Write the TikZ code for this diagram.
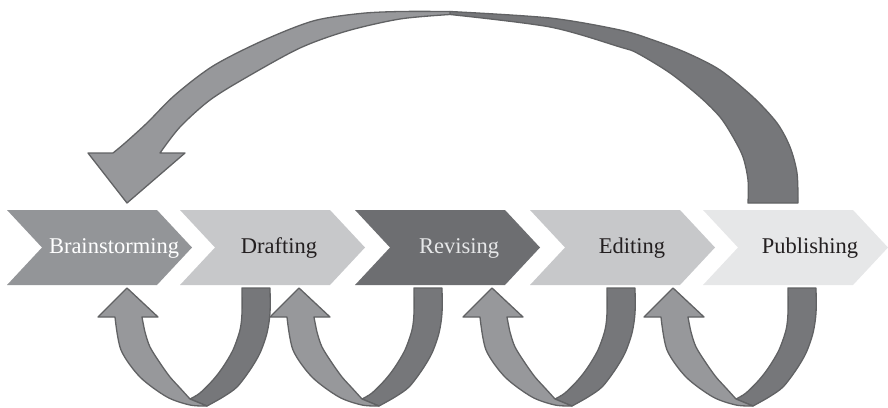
\documentclass[tikz,border=0pt]{standalone}
\usepackage{fontspec}
\setmainfont{Liberation Serif}
\definecolor{chevA}{HTML}{939598}
\definecolor{chevB}{HTML}{C7C8CA}
\definecolor{chevC}{HTML}{6D6E71}
\definecolor{chevD}{HTML}{C7C8CA}
\definecolor{chevE}{HTML}{E6E7E8}
\definecolor{arrowlight}{HTML}{97989B}
\definecolor{arrowdark}{HTML}{76777A}
\definecolor{arrowedge}{HTML}{616264}
\definecolor{darktext}{HTML}{231F20}
\begin{document}
\begin{tikzpicture}[x=1pt,y=-1pt,
  ribbonlight/.style={fill=arrowlight, draw=arrowedge, line width=1.3pt, line join=round},
  ribbondark/.style={fill=arrowdark, draw=arrowedge, line width=1.3pt, line join=round},
  stagelabel/.style={font=\fontsize{22.5}{27}\selectfont, anchor=base, inner sep=0pt},
]
\useasboundingbox (0,0) rectangle (888,407);

% process chevrons
\foreach \l/\c in {7/chevA,180/chevB,355/chevC,530/chevD,703/chevE}{
  \fill[\c] (\l,210) -- ++(150,0) -- ++(35,37.5) -- ++(-35,37.5) -- ++(-150,0) -- ++(35,-37.5) -- cycle;
}

% stage labels
\node[stagelabel, text=white]    (bs) at (114,253) {Brainstorming};
\node[stagelabel, text=darktext] (dr) at (279,253) {Drafting};
\node[stagelabel, text=chevE]    (rv) at (459,253) {Revising};
\node[stagelabel, text=darktext] (ed) at (632,253) {Editing};
\node[stagelabel, text=darktext] (pb) at (810,253) {Publishing};

% long return arrow: Publishing back to Brainstorming (twisted ribbon)
\filldraw[ribbondark]
  plot[smooth] coordinates {(450,11.5) (550,18) (620,30) (653,40) (687,53) (720,70) (753,97) (777,123) (790,147) (797,173) (798,203)}
  -- plot[smooth] coordinates {(748,203) (748,180) (743,157) (733,137) (720,117) (700,97) (670,73) (637,53) (620,47) (550,27) (450,14.5)}
  -- cycle;
\filldraw[ribbonlight]
  plot[smooth] coordinates {(450,11.5) (400,11.5) (360,13.5) (313,21) (262,41) (213,66) (175,95) (147,123) (125,143) (113,153)}
  -- (88,153) -- (127,203) -- (185,153) -- (160,153)
  -- plot[smooth] coordinates {(160,153) (180,127) (210,100) (247,77) (300,48) (347,31) (400,19) (450,14.5)}
  -- cycle;

% short loops back to the previous stage
\foreach \s in {0,172,365,546}{
  \begin{scope}[xshift=\s]
    \filldraw[ribbondark]
      plot[smooth] coordinates {(270,288) (270,313) (267,333) (260,353) (250,370) (237,387) (223,397) (207,406)}
      -- (190,399)
      -- plot[smooth] coordinates {(190,399) (200,393) (213,380) (223,367) (233,350) (240,330) (242,313) (242,288)}
      -- cycle;
    \filldraw[ribbonlight]
      (98,317) -- (127,288) -- (158,317) -- (142,317)
      -- plot[smooth] coordinates {(142,317) (145,332) (150,347) (160,363) (170,377) (180,388) (190,399)}
      -- (207,406)
      -- plot[smooth] coordinates {(207,406) (190,405) (167,397) (140,377) (121,350) (115,317)}
      -- cycle;
  \end{scope}
}
\end{tikzpicture}
\end{document}
